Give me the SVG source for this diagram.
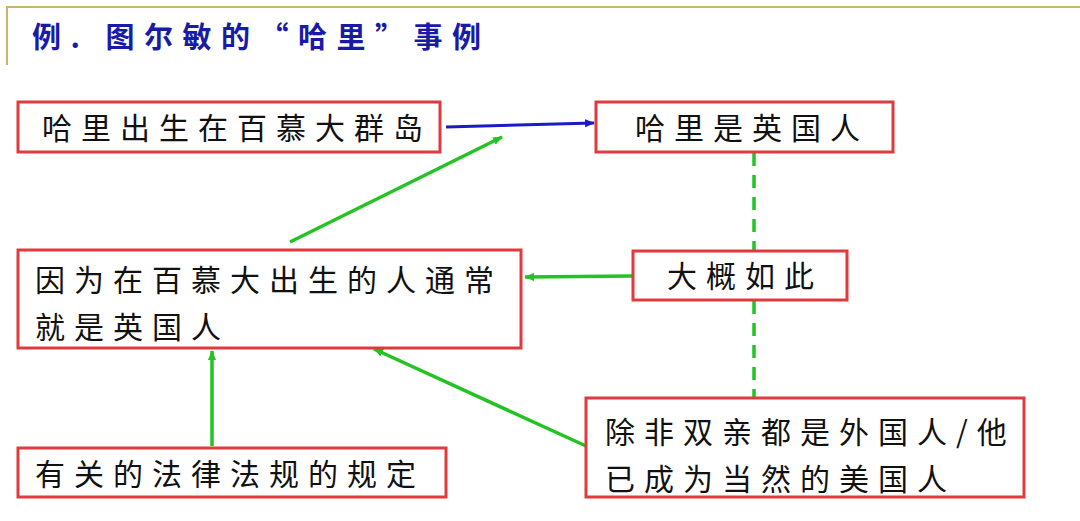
<svg xmlns="http://www.w3.org/2000/svg" width="1080" height="521" viewBox="0 0 1080 521">
<defs>
<style>
.box{fill:#fff;stroke:#e03a3e;stroke-width:3}
.t{font-family:"Noto Sans CJK SC","Noto Sans CJK JP",sans-serif;font-size:30px;fill:#111;letter-spacing:9px}
.g{stroke:#22c322;stroke-width:3.5;fill:none}
</style>
<marker id="ag" markerWidth="10" markerHeight="8" refX="9" refY="4" orient="auto" markerUnits="userSpaceOnUse"><path d="M0,0L10,4L0,8z" fill="#22c322"/></marker>
<marker id="ab" markerWidth="10" markerHeight="8" refX="9" refY="4" orient="auto" markerUnits="userSpaceOnUse"><path d="M0,0L10,4L0,8z" fill="#1a1ac8"/></marker>
</defs>
<rect width="1080" height="521" fill="#fff"/>
<path d="M7,65V7H1080" stroke="#c9b46a" stroke-width="2" fill="none"/>
<text x="32" y="48" font-family="'Noto Sans CJK SC',sans-serif" font-size="29" font-weight="bold" fill="#1a1aa8" letter-spacing="9.5">例. 图尔敏的“哈里”事例</text>
<g id="connectors">
<line x1="446" y1="127" x2="594" y2="123" stroke="#1a1ac8" stroke-width="3" marker-end="url(#ab)"/>
<line class="g" x1="290" y1="242" x2="502" y2="137" marker-end="url(#ag)"/>
<line class="g" x1="633" y1="276" x2="525" y2="277" marker-end="url(#ag)"/>
<line class="g" x1="754" y1="153" x2="754" y2="250" stroke-dasharray="13,9"/>
<line class="g" x1="754" y1="301" x2="754" y2="397" stroke-dasharray="13,9"/>
<line class="g" x1="212" y1="446" x2="212" y2="351" marker-end="url(#ag)"/>
<line class="g" x1="586" y1="446" x2="374" y2="349" marker-end="url(#ag)"/>
</g>
<g id="n1"><rect class="box" x="18" y="102" width="422" height="50"/><text class="t" x="42" y="139">哈里出生在百慕大群岛</text></g>
<g id="n2"><rect class="box" x="596" y="102" width="297" height="50"/><text class="t" x="635" y="139">哈里是英国人</text></g>
<g id="n3"><rect class="box" x="18" y="250" width="503" height="98"/><text class="t" x="35" y="291">因为在百慕大出生的人通常</text><text class="t" x="35" y="338">就是英国人</text></g>
<g id="n4"><rect class="box" x="633" y="251" width="214" height="49"/><text class="t" x="667" y="287">大概如此</text></g>
<g id="n5"><rect class="box" x="586" y="398" width="438" height="99"/><text class="t" x="605" y="443" font-size="28" letter-spacing="5.5">除非双亲都是外国人/他</text><text class="t" x="605" y="490" font-size="28" letter-spacing="11">已成为当然的美国人</text></g>
<g id="n6"><rect class="box" x="18" y="448" width="428" height="49"/><text class="t" x="35" y="485">有关的法律法规的规定</text></g>
</svg>
